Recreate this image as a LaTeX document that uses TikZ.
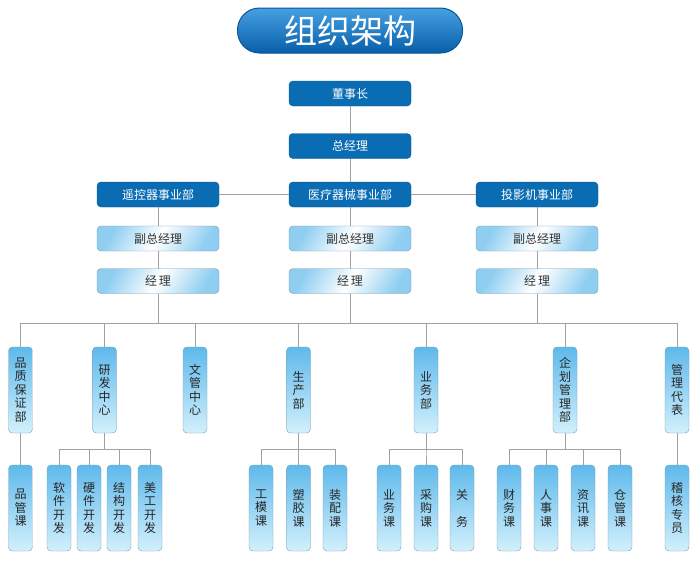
\documentclass[tikz,border=0pt]{standalone}
\usepackage{fontspec}
\setmainfont{Noto Sans CJK SC}
\usepackage{tikz}
\usetikzlibrary{positioning}
\definecolor{darkbox}{RGB}{10,108,178}
\definecolor{darkedge}{RGB}{8,84,150}
\definecolor{lightblue}{RGB}{95,185,235}
\definecolor{paleblue}{RGB}{210,240,252}
\definecolor{boxedge}{RGB}{125,155,175}
\definecolor{linegray}{RGB}{160,160,160}
\definecolor{titletop}{RGB}{70,160,225}
\definecolor{titlebot}{RGB}{8,95,170}

\begin{document}
\begin{tikzpicture}[
			x = 1pt, y = -1pt,
			every node/.style = {inner sep=0pt, outer sep=0pt},
			topbox/.style = {fill=darkbox, draw=darkedge, rounded corners=4pt,
				minimum width=122pt, minimum height=25pt, text=white,
				font=\fontsize{12}{14}\selectfont},
			midbox/.style = {draw=boxedge, rounded corners=4pt,
				left color=lightblue!70, right color=lightblue!70, middle color=white, shading angle=60,
				minimum width=122pt, minimum height=25pt, text=black!80,
				font=\fontsize{12}{14}\selectfont},
			vbox/.style = {draw=boxedge, rounded corners=4pt,
				top color=lightblue, bottom color=paleblue,
				minimum width=24pt, minimum height=86pt, text width=14pt, align=center, text=black!85,
				font=\fontsize{12}{13.5}\selectfont},
			link/.style = {draw=linegray, line width=0.8pt}
			]

			\useasboundingbox (0,0) rectangle (700,560);

			% title
			\node[draw=darkedge, line width=1pt, rounded corners=22pt, top color=titletop, bottom color=titlebot,
				minimum width=225pt, minimum height=45pt, text=white, font=\fontsize{33}{36}\selectfont]
				(title) at (350,30.5) {组织架构};

			% upper levels
			\node[topbox] (dsz) at (350,93.5) {董事长};
			\node[topbox] (zjl) at (350,146) {总经理};
			\node[topbox] (ykq) at (158,194.5) {遥控器事业部};
			\node[topbox] (ylq) at (350,194.5) {医疗器械事业部};
			\node[topbox] (tyj) at (537,194.5) {投影机事业部};

			\node[midbox] (fz1) at (158,238.5) {副总经理};
			\node[midbox] (fz2) at (350,238.5) {副总经理};
			\node[midbox] (fz3) at (537,238.5) {副总经理};
			\node[midbox] (jl1) at (158,281) {经\,理};
			\node[midbox] (jl2) at (350,281) {经\,理};
			\node[midbox] (jl3) at (537,281) {经\,理};

			% departments
			\node[vbox] (pz) at (20.5,390) {品\\质\\保\\证\\部};
			\node[vbox] (yf) at (104.5,390) {研\\发\\中\\心};
			\node[vbox] (wg) at (195,390) {文\\管\\中\\心};
			\node[vbox] (sc) at (298.5,390) {生\\产\\部};
			\node[vbox] (yw) at (426,390) {业\\务\\部};
			\node[vbox] (qh) at (565,390) {企\\划\\管\\理\\部};
			\node[vbox] (gl) at (677,390) {管\\理\\代\\表};

			% sections
			\node[vbox] (pg) at (20.5,508) {品\\管\\课};
			\node[vbox] (rj) at (59,508) {软\\件\\开\\发};
			\node[vbox] (yj) at (89,508) {硬\\件\\开\\发};
			\node[vbox] (jg) at (119,508) {结\\构\\开\\发};
			\node[vbox] (mg) at (150,508) {美\\工\\开\\发};
			\node[vbox] (gm) at (261,508) {工\\模\\课};
			\node[vbox] (sj) at (298.5,508) {塑\\胶\\课};
			\node[vbox] (zp) at (335,508) {装\\配\\课};
			\node[vbox] (ywk) at (389,508) {业\\务\\课};
			\node[vbox] (cg) at (426,508) {采\\购\\课};
			\node[vbox] (gw) at (462,508) {关\\~\\务};
			\node[vbox] (cw) at (509,508) {财\\务\\课};
			\node[vbox] (rs) at (546,508) {人\\事\\课};
			\node[vbox] (zx) at (583,508) {资\\讯\\课};
			\node[vbox] (cgk) at (620,508) {仓\\管\\课};
			\node[vbox] (jh) at (677,508) {稽\\核\\专\\员};

			% connectors
			\draw[link] (dsz) -- (zjl);
			\draw[link] (zjl) -- (ylq);
			\draw[link] (ykq) -- (ylq);
			\draw[link] (ylq) -- (tyj);
			\draw[link] (ykq) -- (fz1) -- (jl1);
			\draw[link] (ylq) -- (fz2) -- (jl2);
			\draw[link] (tyj) -- (fz3) -- (jl3);
			\draw[link] (jl1.south) -- ++(0,29.5);
			\draw[link] (jl3.south) -- ++(0,29.5);
			\foreach \d in {pz,yf,wg,sc,yw,qh,gl}
				\draw[link] (jl2.south) -- ++(0,29.5) -| (\d.north);

			\draw[link] (pz) -- (pg);
			\draw[link] (gl) -- (jh);
			\foreach \s in {rj,yj,jg,mg}
				\draw[link] (yf.south) -- ++(0,16) -| (\s.north);
			\foreach \s in {gm,sj,zp}
				\draw[link] (sc.south) -- ++(0,16) -| (\s.north);
			\foreach \s in {ywk,cg,gw}
				\draw[link] (yw.south) -- ++(0,16) -| (\s.north);
			\foreach \s in {cw,rs,zx,cgk}
				\draw[link] (qh.south) -- ++(0,16) -| (\s.north);

		\end{tikzpicture}
\end{document}
